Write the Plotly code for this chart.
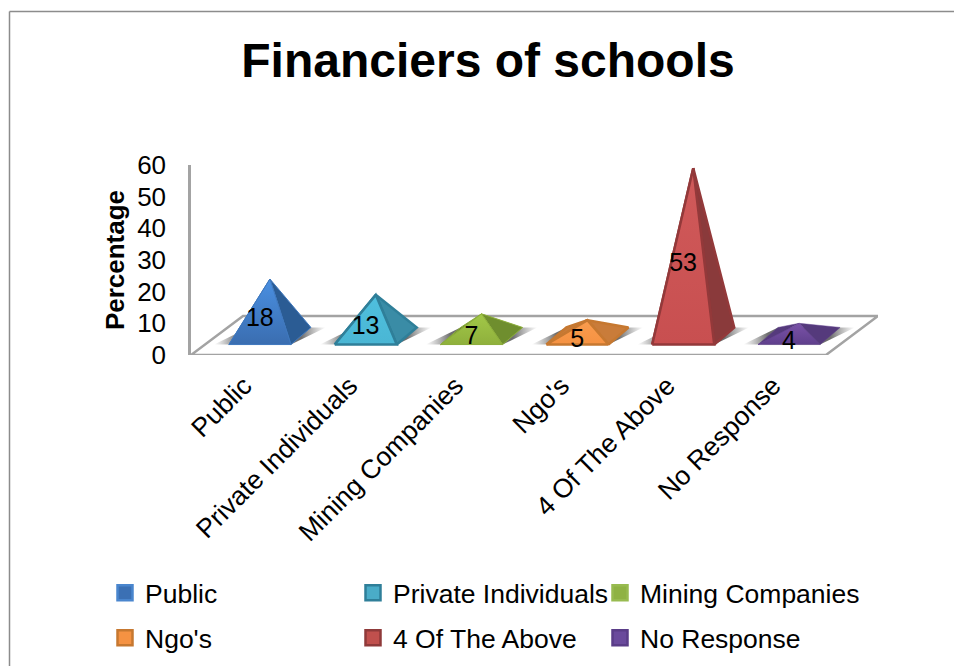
import plotly.graph_objects as go

# Survey results
categories = ["Public", "Private Individuals", "Mining Companies", "Ngo's", "4 Of The Above", "No Response"]
values = [18, 13, 7, 5, 53, 4]

# Face colours per series
front_top = ["#4A90E2", "#4FC0DE", "#A2C848", "#FA9C4E", "#D05A5A", "#7A52A8"]
front_bottom = ["#3A6DB0", "#4AB6D4", "#8FB03C", "#F59242", "#C84F50", "#5F3F8C"]
side_fill = ["#2B5C94", "#3A8CA6", "#6F8E2E", "#C97C3A", "#8A3A3B", "#553A7C"]
edge_color = ["#3F78BE", "#2F7F99", "#8CAE3A", "#C67830", "#93393A", "#5F3F8C"]
edge_width = [1, 2.5, 1, 2.5, 2.5, 0.5]
legend_fill = ["#3B70B4", "#4AACC8", "#8FB244", "#F59242", "#C0504D", "#6A4A9C"]
legend_edge = ["#4A86CE", "#2F7F99", "#98BB50", "#C67830", "#8F3A3A", "#5A3D88"]

# Oblique projection of the chart floor, in axis units
DEPTH_X = 0.4915
DEPTH_Y = 12.3
LEFT = -0.5
RIGHT = 5.5
BASE_DX = 0.293
SKEW_X = 0.0945
SKEW_Y = 2.7

fig = go.Figure()


def polygon(xs, ys, **kwargs):
    fig.add_trace(go.Scatter(x=xs + xs[:1], y=ys + ys[:1], mode="lines", fill="toself",
                             hoverinfo="skip", showlegend=False, cliponaxis=False, **kwargs))


# Floor
polygon([LEFT, RIGHT, RIGHT + DEPTH_X, LEFT + DEPTH_X], [0, 0, DEPTH_Y, DEPTH_Y],
        fillcolor="white", line=dict(color="#A3A3A3", width=2.5))

for i, value in enumerate(values):
    cx = i + DEPTH_X / 2
    cy = DEPTH_Y / 2 - 0.15
    fl = (cx - BASE_DX - SKEW_X, cy - SKEW_Y)
    fr = (cx + BASE_DX - SKEW_X, cy - SKEW_Y)
    br = (cx + BASE_DX + SKEW_X, cy + SKEW_Y)
    bl = (cx - BASE_DX + SKEW_X, cy + SKEW_Y)
    apex = (cx, cy + value)
    line = dict(color=edge_color[i], width=edge_width[i])

    # soft contact shadow on the floor
    polygon([fl[0] - 0.14, fr[0], br[0] + 0.14, bl[0]], [fl[1], fr[1], br[1], bl[1]],
            line=dict(width=0),
            fillgradient=dict(type="horizontal",
                              colorscale=[[0, "rgba(140,140,140,0)"], [0.22, "rgba(110,110,110,1)"],
                                          [0.78, "rgba(110,110,110,1)"], [1, "rgba(140,140,140,0)"]]))
    polygon([fl[0], bl[0], apex[0]], [fl[1], bl[1], apex[1]], fillcolor=side_fill[i], line=line)
    polygon([fr[0], br[0], apex[0]], [fr[1], br[1], apex[1]], fillcolor=side_fill[i], line=line)
    polygon([fl[0], fr[0], apex[0]], [fl[1], fr[1], apex[1]], line=line,
            fillgradient=dict(type="vertical",
                              colorscale=[[0, front_bottom[i]], [1, front_top[i]]]))

# Value labels
fig.add_trace(go.Scatter(
    x=[i + 0.15 for i in range(len(values))],
    y=[2 + v * 0.5 for v in values],
    mode="text", text=[str(v) for v in values], textposition="middle center",
    textfont=dict(family="Liberation Sans", size=25, color="black"),
    hoverinfo="skip", showlegend=False, cliponaxis=False))

# One legend per entry so the columns and rows can be spaced freely
legend_left = [105, 353, 600]
legend_mid = [593, 638]
legends = {}
for i, name in enumerate(categories):
    key = "legend" if i == 0 else f"legend{i + 1}"
    fig.add_trace(go.Scatter(
        x=[None], y=[None], mode="markers", name=name, legend=key,
        marker=dict(symbol="square", size=15, color=legend_fill[i],
                    line=dict(color=legend_edge[i], width=2.5))))
    legends[key] = dict(x=legend_left[i % 3] / 954, y=1 - legend_mid[i // 3] / 666,
                        orientation="h", xanchor="left", yanchor="middle",
                        bgcolor="rgba(0,0,0,0)",
                        font=dict(family="Liberation Sans", size=26.5, color="black"))

fig.update_layout(
    width=954, height=666,
    margin=dict(l=0, r=0, t=0, b=0),
    paper_bgcolor="white", plot_bgcolor="rgba(0,0,0,0)",
    title=dict(text="<b>Financiers of schools</b>", x=488 / 954, y=1 - 60 / 666,
               xanchor="center", yanchor="middle", xref="paper", yref="paper",
               font=dict(family="Liberation Sans", size=48, color="black")),
    xaxis=dict(domain=[191 / 954, 878 / 954], range=[LEFT, RIGHT + DEPTH_X],
               tickvals=list(range(len(categories))), ticktext=categories, tickangle=-45,
               showgrid=False, zeroline=False, showline=False, ticks="", ticklabelstandoff=9,
               automargin=False, tickfont=dict(family="Liberation Sans", size=26.5, color="black")),
    yaxis=dict(domain=[1 - 355 / 666, 1 - 165 / 666], range=[0, 60], tickvals=list(range(0, 61, 10)),
               showgrid=False, zeroline=False, showline=True, linecolor="#A3A3A3", linewidth=2.5,
               ticks="", ticklabelstandoff=17, automargin=False,
               tickfont=dict(family="Liberation Sans", size=26, color="black"),
               title=dict(text="<b>Percentage</b>", standoff=6,
                          font=dict(family="Liberation Sans", size=26, color="black"))),
    shapes=[
        dict(type="line", xref="paper", yref="paper", x0=9.5 / 954, x1=1, y0=1 - 11.5 / 666, y1=1 - 11.5 / 666,
             line=dict(color="#8C8C8C", width=1.5)),
        dict(type="line", xref="paper", yref="paper", x0=9.5 / 954, x1=9.5 / 954, y0=1 - 11.5 / 666, y1=0,
             line=dict(color="#8C8C8C", width=1.5)),
    ],
    **legends,
)

fig.write_html("out.html")
